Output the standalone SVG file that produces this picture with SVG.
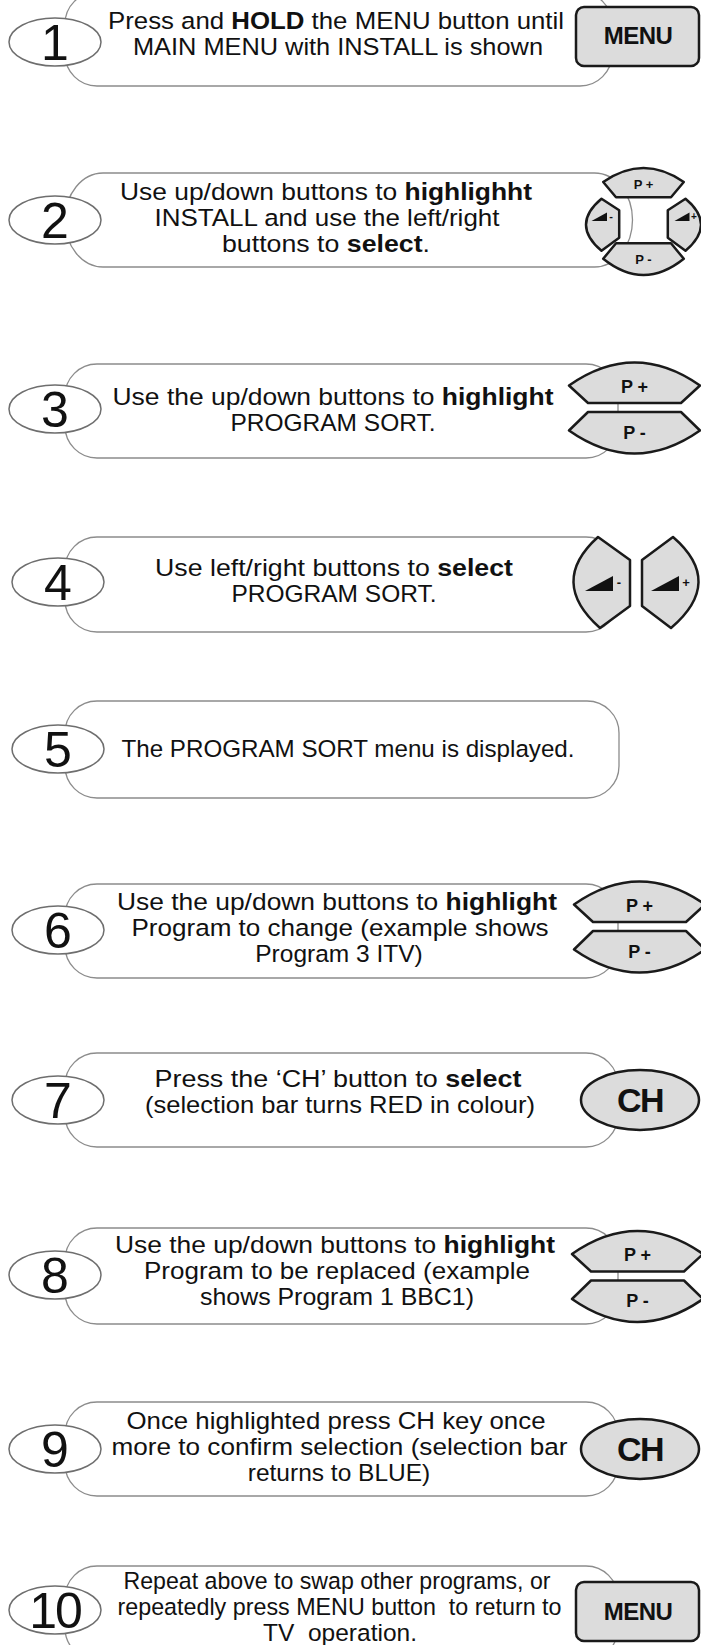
<svg xmlns="http://www.w3.org/2000/svg" width="701" height="1645" viewBox="0 0 701 1645">
<style>
.pill{fill:#fff;stroke:#8c8c8c;stroke-width:1.3}
.num{fill:#fff;stroke:#6e6e6e;stroke-width:1.5}
.numt{font-family:"Liberation Sans",Arial,sans-serif;font-size:50px;fill:#111;text-anchor:middle}
.t{font-family:"Liberation Sans",Arial,sans-serif;font-size:24.5px;fill:#111;text-anchor:middle}
.b{font-weight:bold}
.btn{fill:#dcdcdc;stroke:#1a1a1a;stroke-width:2.5;stroke-linejoin:round}
.btnt{font-family:"Liberation Sans",Arial,sans-serif;font-weight:bold;fill:#111;text-anchor:middle}
.ico{fill:#111}
</style>
<rect width="701" height="1645" fill="#fff"/>
<g id="connectors"/>

<g id="step1">
<rect class="pill" x="65" y="-8" width="547" height="94" rx="32"/>
<ellipse class="num" cx="55" cy="42" rx="46" ry="24"/>
<text class="numt" x="55" y="60">1</text>
<text class="t" x="336" y="29" textLength="456" lengthAdjust="spacingAndGlyphs">Press and <tspan class="b">HOLD</tspan> the MENU button until</text>
<text class="t" x="338" y="55" textLength="410" lengthAdjust="spacingAndGlyphs">MAIN MENU with INSTALL is shown</text>
<rect class="btn" x="576" y="7" width="123" height="59" rx="8" stroke-width="3"/>
<text class="btnt" x="638" y="44" font-size="24" letter-spacing="-0.6">MENU</text>
</g>

<g id="step2">
<rect class="pill" x="65" y="173" width="567.5" height="94" rx="38" ry="47"/>
<ellipse class="num" cx="55" cy="220" rx="46" ry="24"/>
<text class="numt" x="55" y="238">2</text>
<text class="t" x="326" y="200" textLength="412" lengthAdjust="spacingAndGlyphs">Use up/down buttons to <tspan class="b">highlighht</tspan></text>
<text class="t" x="327" y="226" textLength="345" lengthAdjust="spacingAndGlyphs">INSTALL and use the left/right</text>
<text class="t" x="326" y="252" textLength="208" lengthAdjust="spacingAndGlyphs">buttons to <tspan class="b">select</tspan>.</text>
<g transform="translate(643.5,221.5)">
<path class="btn" d="M-40.3,-39.5 Q0,-67.5 40.3,-39.5 L27.5,-24.3 L-27.5,-24.3 Z"/>
<path class="btn" d="M-27.5,21.7 L27.5,21.7 L40.3,37.3 Q0,69.7 -40.3,37.3 Z"/>
<path class="btn" d="M-42,-22.7 L-24.3,-11.3 L-24.3,16.2 L-42,29.2 Q-73,3 -42,-22.7 Z"/>
<path class="btn" d="M42,-22.7 L24.3,-11.3 L24.3,16.2 L42,29.2 Q73,3 42,-22.7 Z"/>
<text class="btnt" x="0" y="-33" font-size="13">P +</text>
<text class="btnt" x="0" y="42" font-size="13">P -</text>
<path class="ico" d="M-52,-0.5 L-36.5,-0.5 L-36.5,-9 Z"/>
<text class="btnt" x="-32.5" y="-2" font-size="11">-</text>
<path class="ico" d="M31,-0.5 L46,-0.5 L46,-9 Z"/>
<text class="btnt" x="50.5" y="-2" font-size="10">+</text>
</g>
</g>

<g id="step3">
<rect class="pill" x="65" y="364" width="553" height="94" rx="32"/>
<ellipse class="num" cx="55" cy="409" rx="46" ry="24"/>
<text class="numt" x="55" y="427">3</text>
<text class="t" x="333" y="405" textLength="441" lengthAdjust="spacingAndGlyphs">Use the up/down buttons to <tspan class="b">highlight</tspan></text>
<text class="t" x="333" y="431">PROGRAM SORT.</text>
<g transform="translate(569,407.5)">
<path class="btn" d="M0,-22 Q65.5,-68 131,-22 L112,-4.5 L19,-4.5 Z"/>
<path class="btn" d="M19,4.5 L112,4.5 L131,23 Q65.5,69 0,23 Z"/>
<text class="btnt" x="65.5" y="-15" font-size="18">P +</text>
<text class="btnt" x="65.5" y="31" font-size="18">P -</text>
</g>
</g>

<g id="step4">
<rect class="pill" x="65" y="537" width="553" height="95" rx="32"/>
<ellipse class="num" cx="58" cy="582" rx="46" ry="24"/>
<text class="numt" x="58" y="600">4</text>
<text class="t" x="334" y="576" textLength="358" lengthAdjust="spacingAndGlyphs">Use left/right buttons to <tspan class="b">select</tspan></text>
<text class="t" x="334" y="602">PROGRAM SORT.</text>
<path class="btn" d="M598,537 L630,560 L630,606 L600,628 Q548,582 598,537 Z"/>
<path class="btn" d="M673,537 L642,560 L642,606 L671,628 Q725,582 673,537 Z"/>
<path class="ico" d="M585,591 L613,591 L613,576 Z"/>
<text class="btnt" x="619" y="587" font-size="13">-</text>
<path class="ico" d="M651,591 L679,591 L679,576 Z"/>
<text class="btnt" x="686" y="587" font-size="13">+</text>
</g>

<g id="step5">
<rect class="pill" x="65" y="701" width="554" height="97" rx="32"/>
<ellipse class="num" cx="58" cy="749" rx="46" ry="24"/>
<text class="numt" x="58" y="767">5</text>
<text class="t" x="348" y="757" textLength="453" lengthAdjust="spacingAndGlyphs">The PROGRAM SORT menu is displayed.</text>
</g>

<g id="step6">
<rect class="pill" x="65" y="884" width="553" height="94" rx="32"/>
<ellipse class="num" cx="58" cy="930" rx="46" ry="24"/>
<text class="numt" x="58" y="948">6</text>
<text class="t" x="337" y="910" textLength="440" lengthAdjust="spacingAndGlyphs">Use the up/down buttons to <tspan class="b">highlight</tspan></text>
<text class="t" x="340" y="936" textLength="417" lengthAdjust="spacingAndGlyphs">Program to change (example shows</text>
<text class="t" x="339" y="962">Program 3 ITV)</text>
<g transform="translate(574,926.5)">
<path class="btn" d="M0,-22 Q65.5,-68 131,-22 L112,-4.5 L19,-4.5 Z"/>
<path class="btn" d="M19,4.5 L112,4.5 L131,23 Q65.5,69 0,23 Z"/>
<text class="btnt" x="65.5" y="-15" font-size="18">P +</text>
<text class="btnt" x="65.5" y="31" font-size="18">P -</text>
</g>
</g>

<g id="step7">
<rect class="pill" x="65" y="1053" width="553" height="94" rx="32"/>
<ellipse class="num" cx="58" cy="1100" rx="46" ry="24"/>
<text class="numt" x="58" y="1118">7</text>
<text class="t" x="338" y="1087" textLength="367" lengthAdjust="spacingAndGlyphs">Press the ‘CH’ button to <tspan class="b">select</tspan></text>
<text class="t" x="340" y="1113" textLength="390" lengthAdjust="spacingAndGlyphs">(selection bar turns RED in colour)</text>
<ellipse class="btn" cx="640" cy="1100" rx="59" ry="30" stroke-width="3.5"/>
<text class="btnt" x="640" y="1112" font-size="34" letter-spacing="-1.5">CH</text>
</g>

<g id="step8">
<rect class="pill" x="65" y="1228" width="553" height="96" rx="32"/>
<ellipse class="num" cx="55" cy="1275" rx="46" ry="24"/>
<text class="numt" x="55" y="1293">8</text>
<text class="t" x="335" y="1253" textLength="440" lengthAdjust="spacingAndGlyphs">Use the up/down buttons to <tspan class="b">highlight</tspan></text>
<text class="t" x="337" y="1279" textLength="386" lengthAdjust="spacingAndGlyphs">Program to be replaced (example</text>
<text class="t" x="337" y="1305" textLength="274" lengthAdjust="spacingAndGlyphs">shows Program 1 BBC1)</text>
<g transform="translate(572,1276)">
<path class="btn" d="M0,-22 Q65.5,-68 131,-22 L112,-4.5 L19,-4.5 Z"/>
<path class="btn" d="M19,4.5 L112,4.5 L131,23 Q65.5,69 0,23 Z"/>
<text class="btnt" x="65.5" y="-15" font-size="18">P +</text>
<text class="btnt" x="65.5" y="31" font-size="18">P -</text>
</g>
</g>

<g id="step9">
<rect class="pill" x="65" y="1402" width="553" height="94" rx="32"/>
<ellipse class="num" cx="55" cy="1449" rx="46" ry="24"/>
<text class="numt" x="55" y="1467">9</text>
<text class="t" x="336" y="1429" textLength="419" lengthAdjust="spacingAndGlyphs">Once highlighted press CH key once</text>
<text class="t" x="339.5" y="1455" textLength="456" lengthAdjust="spacingAndGlyphs">more to confirm selection (selection bar</text>
<text class="t" x="339" y="1481">returns to BLUE)</text>
<ellipse class="btn" cx="640" cy="1449" rx="59" ry="30" stroke-width="3.5"/>
<text class="btnt" x="640" y="1461" font-size="34" letter-spacing="-1.5">CH</text>
</g>

<g id="step10">
<rect class="pill" x="65" y="1566" width="553" height="94" rx="32"/>
<ellipse class="num" cx="55" cy="1610" rx="46" ry="24"/>
<text class="numt" x="55" y="1628" letter-spacing="-2">10</text>
<text class="t" x="337" y="1589" textLength="427" lengthAdjust="spacingAndGlyphs">Repeat above to swap other programs, or</text>
<text class="t" x="339.5" y="1615" textLength="444" lengthAdjust="spacingAndGlyphs" xml:space="preserve">repeatedly press MENU button  to return to</text>
<text class="t" x="340" y="1641" xml:space="preserve">TV  operation.</text>
<rect class="btn" x="576" y="1582" width="123" height="59" rx="8" stroke-width="3"/>
<text class="btnt" x="638" y="1620" font-size="24" letter-spacing="-0.6">MENU</text>
</g>
</svg>
